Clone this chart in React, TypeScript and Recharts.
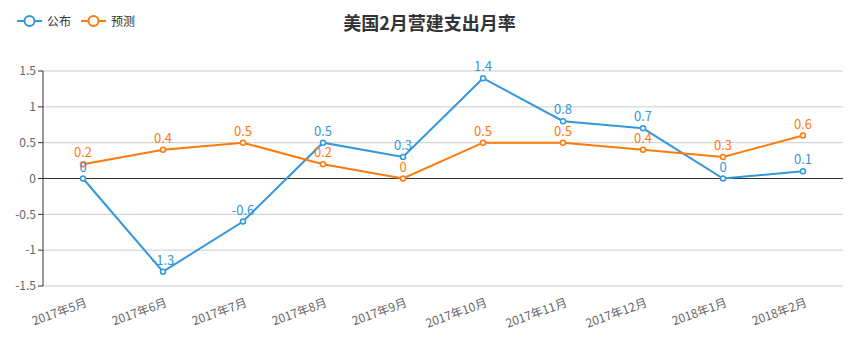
import React from 'react';
import { LineChart, Line, XAxis, YAxis, CartesianGrid, ReferenceLine, LabelList } from 'recharts';

const months = [
  '2017年5月', '2017年6月', '2017年7月', '2017年8月', '2017年9月',
  '2017年10月', '2017年11月', '2017年12月', '2018年1月', '2018年2月',
];
const actual = [0, -1.3, -0.6, 0.5, 0.3, 1.4, 0.8, 0.7, 0, 0.1];
const forecast = [0.2, 0.4, 0.5, 0.2, 0, 0.5, 0.5, 0.4, 0.3, 0.6];
const yTicks = [-1.5, -1, -0.5, 0, 0.5, 1, 1.5];

const BLUE = '#3398db';
const ORANGE = '#ff7a0c';
const FONT = '"Noto Sans CJK SC", "Noto Sans", sans-serif';

const rows = months.map((m, i) => ({ month: m, actual: actual[i], forecast: forecast[i] }));

const LegendItem: React.FC<{ color: string; label: string }> = ({ color, label }) => (
  <div style={{ display: 'flex', alignItems: 'center', marginRight: 10 }}>
    <svg width={25} height={14}>
      <line x1={0} y1={7} x2={25} y2={7} stroke={color} strokeWidth={2} />
      <circle cx={12.5} cy={7} r={5} fill="#fff" stroke={color} strokeWidth={2} />
    </svg>
    <span style={{ marginLeft: 5, fontSize: 12, color: '#333' }}>{label}</span>
  </div>
);

export default function App() {
  return (
    <div style={{ position: 'absolute', left: 0, top: 0, width: 859, height: 353, fontFamily: FONT, background: '#fff' }}>
      <div style={{ position: 'absolute', left: 17, top: 12, display: 'flex' }}>
        <LegendItem color={BLUE} label="公布" />
        <LegendItem color={ORANGE} label="预测" />
      </div>
      <div style={{ position: 'absolute', left: 0, right: 0, top: 9, textAlign: 'center', fontSize: 18, fontWeight: 'bold', color: '#333' }}>
        美国2月营建支出月率
      </div>
      <LineChart width={859} height={353} data={rows} margin={{ top: 71, right: 16, bottom: 0, left: 0 }}>
        <CartesianGrid vertical={false} stroke="#ccc" />
        <XAxis
          dataKey="month"
          height={67}
          padding={{ left: 40, right: 40 }}
          axisLine={false}
          tickLine={false}
          interval={0}
          angle={-20}
          textAnchor="end"
          tick={{ fontSize: 12, fill: '#666', fontFamily: FONT }}
          dx={2}
          dy={4}
        />
        <YAxis
          width={43}
          domain={[-1.5, 1.5]}
          ticks={yTicks}
          axisLine={{ stroke: '#333' }}
          tickLine={{ stroke: '#333' }}
          tickSize={5}
          tick={{ fontSize: 12, fill: '#666', fontFamily: FONT }}
        />
        <ReferenceLine y={0} stroke="#333" />
        <Line
          type="linear"
          dataKey="actual"
          stroke={BLUE}
          strokeWidth={2}
          dot={{ r: 2.5, fill: '#fff', stroke: BLUE, strokeWidth: 1.5 }}
          isAnimationActive={false}
        >
          <LabelList dataKey="actual" position="top" offset={7} style={{ fill: BLUE, fontSize: 13, fontFamily: FONT }} />
        </Line>
        <Line
          type="linear"
          dataKey="forecast"
          stroke={ORANGE}
          strokeWidth={2}
          dot={{ r: 2.5, fill: '#fff', stroke: ORANGE, strokeWidth: 1.5 }}
          isAnimationActive={false}
        >
          <LabelList dataKey="forecast" position="top" offset={7} style={{ fill: ORANGE, fontSize: 13, fontFamily: FONT }} />
        </Line>
      </LineChart>
    </div>
  );
}
